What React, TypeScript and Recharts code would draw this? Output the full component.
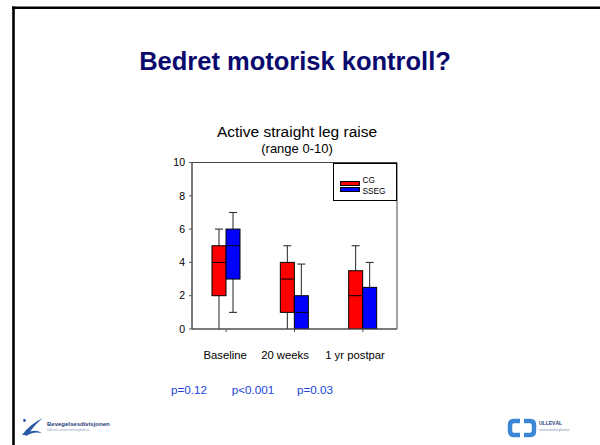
import React from 'react';
import { ComposedChart, Bar, XAxis, YAxis, Legend, ReferenceArea } from 'recharts';

const categories = ['Baseline', '20 weeks', '1 yr postpar'];
const pValues = ['p=0.12', 'p<0.001', 'p=0.03'];
const yTicks = [0, 2, 4, 6, 8, 10];

const cgLow = [0, 0, 0];
const cgQ1 = [2, 1, 0];
const cgMedian = [4, 3, 2];
const cgQ3 = [5, 4, 3.5];
const cgHigh = [6, 5, 5];

const ssegLow = [1, 0, 0];
const ssegQ1 = [3, 0, 0];
const ssegMedian = [5, 1, 0];
const ssegQ3 = [6, 2, 2.5];
const ssegHigh = [7, 3.9, 4];

const data = categories.map((name, i) => ({
  name,
  cg: [cgLow[i], cgHigh[i]],
  cgLow: cgLow[i], cgQ1: cgQ1[i], cgMedian: cgMedian[i], cgQ3: cgQ3[i], cgHigh: cgHigh[i],
  sseg: [ssegLow[i], ssegHigh[i]],
  ssegLow: ssegLow[i], ssegQ1: ssegQ1[i], ssegMedian: ssegMedian[i], ssegQ3: ssegQ3[i], ssegHigh: ssegHigh[i],
}));

const FONT = '"Liberation Sans", Arial, Helvetica, sans-serif';
const LABEL_SHIFT = [-1, -9.5, -7.8];
const P_X = [189, 253, 315];

function BoxShape(props: any) {
  const { x, y, width, height, payload, fill, s } = props;
  const lo = payload[s + 'Low'];
  const hi = payload[s + 'High'];
  const q1 = payload[s + 'Q1'];
  const q3 = payload[s + 'Q3'];
  const med = payload[s + 'Median'];
  const top = Math.min(y, y + height);
  const bottom = Math.max(y, y + height);
  const ppu = (bottom - top) / (hi - lo);
  const py = (v: number) => bottom - (v - lo) * ppu;
  const cx = x + width / 2;
  const cap = 4;
  return (
    <g>
      <line x1={cx} x2={cx} y1={py(hi)} y2={py(q3)} stroke="#222" strokeWidth={1} />
      <line x1={cx} x2={cx} y1={py(q1)} y2={py(lo)} stroke="#222" strokeWidth={1} />
      <line x1={cx - cap} x2={cx + cap} y1={py(hi)} y2={py(hi)} stroke="#222" strokeWidth={1} />
      {lo > 0 && <line x1={cx - cap} x2={cx + cap} y1={py(lo)} y2={py(lo)} stroke="#222" strokeWidth={1} />}
      <rect x={x} y={py(q3)} width={width} height={py(q1) - py(q3)} fill={fill} stroke="#000" strokeWidth={1} />
      <line x1={x} x2={x + width} y1={py(med)} y2={py(med)} stroke="#000" strokeWidth={1} />
    </g>
  );
}

function CategoryTick(props: any) {
  const { x, y, payload, index } = props;
  return (
    <text x={x + LABEL_SHIFT[index]} y={y} dy={25} textAnchor="middle" fontSize={11.3} fill="#000" fontFamily={FONT}>
      {payload.value}
    </text>
  );
}

function LegendContent(props: any) {
  const { payload } = props;
  return (
    <div style={{ position: 'relative', width: '100%', height: '100%', fontFamily: FONT }}>
      {(payload || []).map((entry: any, i: number) => (
        <React.Fragment key={i}>
          <div
            style={{
              position: 'absolute', left: 6, top: 17.5 + i * 6, width: 20, height: 4.5,
              background: entry.color, border: '0.5px solid #000', boxSizing: 'border-box',
            }}
          />
          <div
            style={{
              position: 'absolute', left: 28.5, top: 11 + i * 11.5, fontSize: 8.3, lineHeight: '10px', color: '#000',
            }}
          >
            {entry.value}
          </div>
        </React.Fragment>
      ))}
    </div>
  );
}

export default function App() {
  return (
    <div style={{ position: 'absolute', left: 0, top: 0, width: 600, height: 445, background: '#fff', overflow: 'hidden' }}>
      <svg width={600} height={445} style={{ position: 'absolute', left: 0, top: 0 }}>
        <line x1={12} x2={600} y1={7.8} y2={7.8} stroke="#000" strokeWidth={2.6} />
        <line x1={13.5} x2={13.5} y1={6.5} y2={445} stroke="#000" strokeWidth={2.6} />
        <text x={295} y={70} textAnchor="middle" fontFamily={FONT} fontWeight="bold" fontSize={25.5} fill="#0a0a6e">
          Bedret motorisk kontroll?
        </text>
        <text x={297} y={137} textAnchor="middle" fontFamily={FONT} fontSize={15.5} fill="#000">
          Active straight leg raise
        </text>
        <text x={297} y={153} textAnchor="middle" fontFamily={FONT} fontSize={13} fill="#000">
          (range 0-10)
        </text>
        {pValues.map((p, i) => (
          <text key={p} x={P_X[i]} y={394} textAnchor="middle" fontFamily={FONT} fontSize={11.7} fill="#2244dd">
            {p}
          </text>
        ))}
        {/* left logo */}
        <path d="M22 435 Q30 424 43 418 Q33 426 28 435 Z" fill="#2a5aa8" />
        <path d="M24 434 Q34 428 42 433 Q33 431 26 436 Z" fill="#2a5aa8" />
        <circle cx={24.5} cy={420.5} r={1.4} fill="#2a5aa8" />
        <text x={47} y={426} fontFamily={FONT} fontWeight="bold" fontSize={6} fill="#1f3c7a">Bevegelsesdivisjonen</text>
        <text x={47} y={431} fontFamily={FONT} fontSize={3.5} fill="#8aa0c0">Ullevål universitetssykehus</text>
        {/* right logo */}
        <path d="M520 421 L514 421 Q510 421 510 425 L510 431 Q510 435 514 435 L520 435" fill="none" stroke="#3d86d6" strokeWidth={4.5} />
        <path d="M524 421 L530 421 Q534 421 534 425 L534 431 Q534 435 530 435 L524 435" fill="none" stroke="#3d86d6" strokeWidth={4.5} />
        <text x={539} y={425} fontFamily={FONT} fontWeight="bold" fontSize={5} fill="#1f3c7a">ULLEVÅL</text>
        <text x={539} y={431} fontFamily={FONT} fontSize={3.5} fill="#7a90b0">universitetssykehus</text>
      </svg>
      <div style={{ position: 'absolute', left: 0, top: 0 }}>
        <ComposedChart
          width={600}
          height={445}
          data={data}
          margin={{ top: 162.5, right: 203, bottom: 86, left: 162 }}
          barSize={14}
          barGap={0}
        >
          <ReferenceArea y1={0} y2={10} fill="none" stroke="#444" strokeWidth={1} ifOverflow="visible" />
          <XAxis
            dataKey="name"
            height={30}
            tickSize={3}
            tickMargin={2}
            stroke="#555"
            tick={<CategoryTick />}
            interval={0}
          />
          <YAxis
            width={30}
            domain={[0, 10]}
            ticks={yTicks}
            tickSize={3}
            tickMargin={4}
            stroke="#555"
            tick={{ fontSize: 10.5, fill: '#000', fontFamily: FONT }}
            allowDataOverflow
          />
          <Bar dataKey="cg" name="CG" fill="#ff0000" isAnimationActive={false} shape={(p: any) => <BoxShape {...p} s="cg" />} />
          <Bar dataKey="sseg" name="SSEG" fill="#0000ff" isAnimationActive={false} shape={(p: any) => <BoxShape {...p} s="sseg" />} />
          <Legend
            layout="horizontal"
            verticalAlign="middle"
            align="center"
            content={<LegendContent />}
            wrapperStyle={{
              position: 'absolute', left: 333, top: 162.5, width: 64, height: 38.5,
              border: '1px solid #000', background: '#fff', boxSizing: 'border-box',
            }}
          />
        </ComposedChart>
      </div>
    </div>
  );
}
